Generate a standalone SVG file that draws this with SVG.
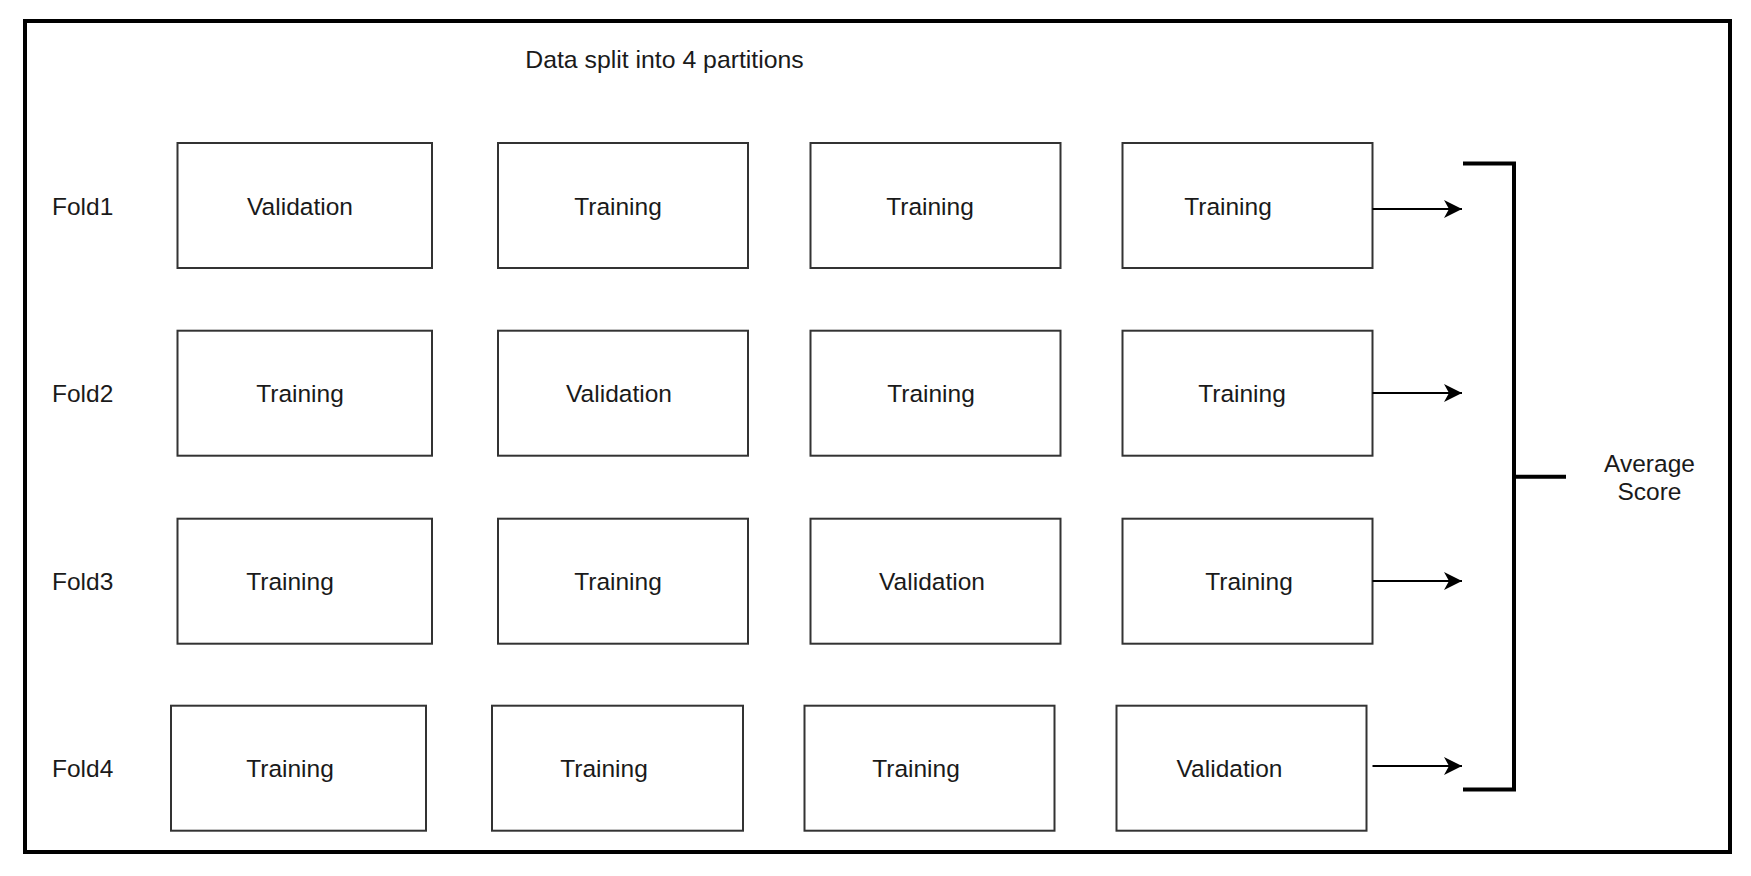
<svg xmlns="http://www.w3.org/2000/svg" width="1751" height="876" viewBox="0 0 1751 876">
<style>
.box{fill:#fff;stroke:#333;stroke-width:2}
.t{font-family:"Liberation Sans",Arial,sans-serif;font-size:24.5px;fill:#1a1a1a;text-anchor:middle}
.lbl{font-family:"Liberation Sans",Arial,sans-serif;font-size:24.5px;fill:#1a1a1a}
.conn{stroke:#000;stroke-width:2;fill:none}
.br{stroke:#000;stroke-width:4;fill:none}
</style>
<defs>
<marker id="ah" viewBox="0 0 20 20" refX="18" refY="10" markerWidth="20" markerHeight="20" markerUnits="userSpaceOnUse" orient="auto">
<path d="M18,10 L0,1 L5,10 L0,19 Z" fill="#000"/>
</marker>
</defs>
<rect width="1751" height="876" fill="#fff"/>
<rect id="frame" x="25" y="21" width="1705" height="831" fill="none" stroke="#000" stroke-width="4"/>
<text id="title" class="t" x="664.5" y="68" style="font-size:24.8px">Data split into 4 partitions</text>

<g id="fold-labels">
<text class="lbl" x="52" y="215">Fold1</text>
<text class="lbl" x="52" y="402">Fold2</text>
<text class="lbl" x="52" y="590">Fold3</text>
<text class="lbl" x="52" y="777">Fold4</text>
</g>

<g id="r1b1"><rect class="box" x="177.5" y="143" width="254.5" height="125"/><text class="t" x="300" y="214.5">Validation</text></g>
<g id="r1b2"><rect class="box" x="498" y="143" width="250" height="125"/><text class="t" x="618" y="214.5">Training</text></g>
<g id="r1b3"><rect class="box" x="810.5" y="143" width="250" height="125"/><text class="t" x="930" y="214.5">Training</text></g>
<g id="r1b4"><rect class="box" x="1122.5" y="143" width="250" height="125"/><text class="t" x="1228" y="214.5">Training</text></g>

<g id="r2b1"><rect class="box" x="177.5" y="330.7" width="254.5" height="125"/><text class="t" x="300" y="402">Training</text></g>
<g id="r2b2"><rect class="box" x="498" y="330.7" width="250" height="125"/><text class="t" x="619" y="402">Validation</text></g>
<g id="r2b3"><rect class="box" x="810.5" y="330.7" width="250" height="125"/><text class="t" x="931" y="402">Training</text></g>
<g id="r2b4"><rect class="box" x="1122.5" y="330.7" width="250" height="125"/><text class="t" x="1242" y="402">Training</text></g>

<g id="r3b1"><rect class="box" x="177.5" y="518.7" width="254.5" height="125"/><text class="t" x="290" y="590">Training</text></g>
<g id="r3b2"><rect class="box" x="498" y="518.7" width="250" height="125"/><text class="t" x="618" y="590">Training</text></g>
<g id="r3b3"><rect class="box" x="810.5" y="518.7" width="250" height="125"/><text class="t" x="932" y="590">Validation</text></g>
<g id="r3b4"><rect class="box" x="1122.5" y="518.7" width="250" height="125"/><text class="t" x="1249" y="590">Training</text></g>

<g id="r4b1"><rect class="box" x="171" y="705.7" width="255" height="125"/><text class="t" x="290" y="777">Training</text></g>
<g id="r4b2"><rect class="box" x="492" y="705.7" width="251" height="125"/><text class="t" x="604" y="777">Training</text></g>
<g id="r4b3"><rect class="box" x="804.5" y="705.7" width="250" height="125"/><text class="t" x="916" y="777">Training</text></g>
<g id="r4b4"><rect class="box" x="1116.5" y="705.7" width="250" height="125"/><text class="t" x="1229.5" y="777">Validation</text></g>

<g id="connectors">
<line class="conn" x1="1372.5" y1="209" x2="1462" y2="209" marker-end="url(#ah)"/>
<line class="conn" x1="1372.5" y1="393" x2="1462" y2="393" marker-end="url(#ah)"/>
<line class="conn" x1="1372.5" y1="581" x2="1462" y2="581" marker-end="url(#ah)"/>
<line class="conn" x1="1372.5" y1="766" x2="1462" y2="766" marker-end="url(#ah)"/>
</g>

<g id="bracket">
<path class="br" d="M1463,163.5 H1514 V789.5 H1463"/>
<line class="br" x1="1514" y1="476.7" x2="1566" y2="476.7"/>
</g>

<g id="average-score">
<text class="t" x="1649.5" y="471.7">Average</text>
<text class="t" x="1649.5" y="500">Score</text>
</g>
</svg>
